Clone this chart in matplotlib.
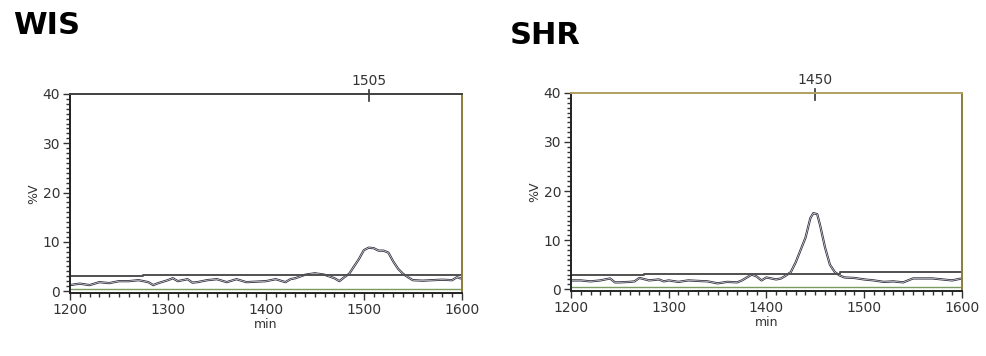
import matplotlib.pyplot as plt

# WIS chromatogram
wis_min = [1200, 1210, 1220, 1230, 1240, 1250, 1260, 1270, 1280, 1285, 1290, 1300, 1305,
           1310, 1320, 1325, 1330, 1340, 1350, 1360, 1370, 1380, 1390, 1400, 1410, 1420,
           1425, 1430, 1440, 1450, 1460, 1470, 1475, 1480, 1485, 1490, 1495, 1500, 1505,
           1510, 1515, 1520, 1525, 1530, 1535, 1540, 1545, 1550, 1560, 1570, 1580, 1590,
           1595, 1600]
wis_v = [1.2, 1.5, 1.2, 1.8, 1.6, 2.0, 2.0, 2.2, 1.8, 1.2, 1.6, 2.2, 2.6,
         2.0, 2.4, 1.7, 1.8, 2.2, 2.4, 1.8, 2.4, 1.8, 1.9, 2.0, 2.4, 1.8,
         2.4, 2.6, 3.3, 3.6, 3.3, 2.6, 2.0, 2.8, 3.5, 5.0, 6.5, 8.3, 8.8,
         8.7, 8.2, 8.2, 7.8, 6.0, 4.5, 3.5, 2.8, 2.2, 2.1, 2.2, 2.3, 2.2,
         2.8, 2.5]
wis_base_x = [1200, 1275, 1275, 1600]
wis_base_y = [3.0, 3.0, 3.3, 3.3]
wis_peak = 1505

# SHR chromatogram
shr_min = [1200, 1210, 1220, 1230, 1240, 1245, 1250, 1260, 1265, 1270, 1280, 1290, 1295,
           1300, 1310, 1320, 1330, 1340, 1350, 1360, 1370, 1375, 1380, 1385, 1390, 1395,
           1400, 1405, 1410, 1415, 1420, 1425, 1430, 1435, 1440, 1445, 1448, 1452, 1455,
           1460, 1465, 1470, 1475, 1480, 1490, 1500, 1510, 1520, 1530, 1540, 1550, 1560,
           1570, 1580, 1590, 1600]
shr_v = [1.8, 1.8, 1.6, 1.8, 2.2, 1.4, 1.4, 1.5, 1.6, 2.3, 1.8, 2.0, 1.6,
         1.8, 1.5, 1.8, 1.7, 1.6, 1.2, 1.5, 1.4, 1.8, 2.4, 3.0, 2.6, 1.8,
         2.4, 2.2, 2.0, 2.2, 2.8, 3.5, 5.5, 8.0, 10.5, 14.5, 15.5, 15.3, 13.0,
         8.5, 5.0, 3.5, 2.8, 2.4, 2.3, 2.0, 1.8, 1.5, 1.6, 1.4, 2.2, 2.2,
         2.2, 2.0, 1.8, 2.2]
shr_base_x = [1200, 1275, 1275, 1475, 1475, 1600]
shr_base_y = [3.0, 3.0, 3.2, 3.2, 3.6, 3.6]
shr_peak = 1450

titles = ['WIS', 'SHR']
x_ticks = [1200, 1300, 1400, 1500, 1600]
y_ticks = [0, 10, 20, 30, 40]

fig = plt.figure(figsize=(9.87, 3.56), dpi=100)

panels = [
    (titles[0], wis_min, wis_v, wis_base_x, wis_base_y, wis_peak, [0.0709, 0.177, 0.397, 0.559], '#404040'),
    (titles[1], shr_min, shr_v, shr_base_x, shr_base_y, shr_peak, [0.5785, 0.182, 0.396, 0.557], '#b0a060'),
]

for title, xs, ys, bx, by, peak, pos, top_col in panels:
    ax = fig.add_axes(pos)
    # trace drawn as a thin double line like the instrument printout
    ax.plot(xs, ys, color='#303040', lw=1.6)
    ax.plot(xs, ys, color='white', lw=0.4)
    ax.plot(bx, by, color='#505050', lw=1.4)
    ax.axhline(0.5, color='#7a9a60', lw=1.0)
    ax.set_xlim(1200, 1600)
    ax.set_ylim(-0.4, 40)
    ax.set_xticks(x_ticks)
    ax.set_yticks(y_ticks)
    ax.set_xticks(range(1200, 1601, 10), minor=True)
    ax.set_yticks(range(0, 41, 1), minor=True)
    ax.tick_params(axis='both', which='major', direction='out', length=5, width=1,
                   color='#333333', labelsize=10, labelcolor='#333333', pad=2)
    ax.tick_params(axis='both', which='minor', direction='out', length=3, width=1,
                   color='#333333')
    ax.spines['left'].set_color('#222222')
    ax.spines['bottom'].set_color('#222222')
    ax.spines['top'].set_color(top_col)
    ax.spines['right'].set_color('#8b7d3a')
    for s in ax.spines.values():
        s.set_linewidth(1.4)
    ax.set_xlabel('min', fontsize=9, color='#333333', labelpad=1)
    ax.set_ylabel('%V', fontsize=9, color='#333333', labelpad=2)
    # peak marker over the top border
    ax.plot([peak, peak], [38.5, 40.8], color='#333333', lw=1.2, clip_on=False)
    ax.text(peak, 41.2, str(peak), ha='center', va='bottom', fontsize=10, color='#333333')

fig.text(0.013, 0.927, titles[0], fontsize=22, fontweight='bold', ha='left', va='center')
fig.text(0.516, 0.899, titles[1], fontsize=22, fontweight='bold', ha='left', va='center')

fig.savefig('out.png', dpi=100)
